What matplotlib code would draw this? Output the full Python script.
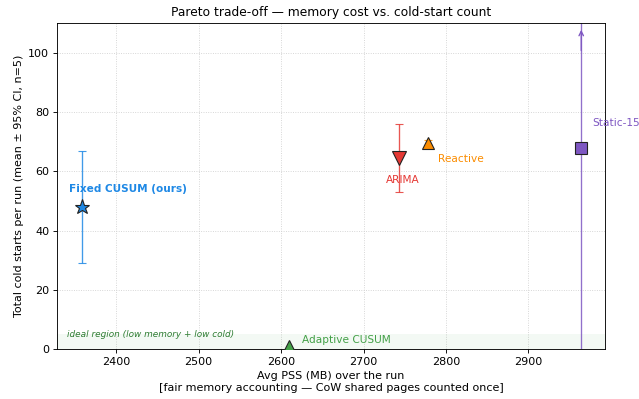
import matplotlib.pyplot as plt
import numpy as np

names = ['Fixed CUSUM (ours)', 'Adaptive CUSUM', 'ARIMA', 'Reactive', 'Static-15']
pss = [2359, 2609, 2743, 2778, 2964]
cold = [48, 0.0, 64.5, 69.5, 67.8]
err_lo = [19, 0.0, 11.5, 0.5, 90]
err_hi = [19, 0.0, 11.5, 1.0, 60]
colors = ['#1e88e5', '#43a047', '#e53935', '#fb8c00', '#7e57c2']
markers = ['*', '^', 'v', '^', 's']
msizes = [14, 16, 12, 11, 11]

# label offsets in data units (dx, dy, ha)
label_pos = [(-16, 6, 'left'), (16, 3.0, 'left'), (5, -7.5, 'center'), (12, -5.5, 'left'), (13, 8.5, 'left')]

fig, ax = plt.subplots(figsize=(7.9875, 4.9875), dpi=80)

ax.axhspan(0, 5, color='#43a047', alpha=0.06, lw=0)
ax.text(2340, 3.5, 'ideal region (low memory + low cold)', color='#2e7d32',
        fontsize=8, style='italic', va='bottom')

for i in range(len(names)):
    if err_lo[i] > 0 or err_hi[i] > 0:
        ax.errorbar(pss[i], cold[i], yerr=[[err_lo[i]], [err_hi[i]]], fmt='none',
                    ecolor=colors[i], capsize=4, elinewidth=1.2, alpha=0.85, zorder=2)
    ax.plot(pss[i], cold[i], marker=markers[i], ms=msizes[i], color=colors[i],
            mec='#222222', mew=1.0, ls='none', zorder=3)
    dx, dy, ha = label_pos[i]
    ax.text(pss[i] + dx, cold[i] + dy, names[i], color=colors[i], fontsize=9.5,
            ha=ha, va='center', fontweight='bold' if i == 0 else 'normal',
            clip_on=False)

ax.annotate('', xy=(pss[4], 108.5), xytext=(pss[4], 100),
            arrowprops=dict(arrowstyle='->', color=colors[4], lw=1.2))

ax.set_xlim(2328, 2993)
ax.set_ylim(0, 110)
ax.set_xticks([2400, 2500, 2600, 2700, 2800, 2900])
ax.grid(True, ls=':', color='#d0d0d0', lw=0.8)
ax.set_axisbelow(True)
ax.set_xlabel('Avg PSS (MB) over the run\n[fair memory accounting — CoW shared pages counted once]')
ax.set_ylabel('Total cold starts per run (mean ± 95% CI, n=5)')
ax.set_title('Pareto trade-off — memory cost vs. cold-start count', fontsize=11)

fig.subplots_adjust(left=0.089, right=0.947, top=0.942, bottom=0.125)
fig.savefig('out.png', dpi=80)
